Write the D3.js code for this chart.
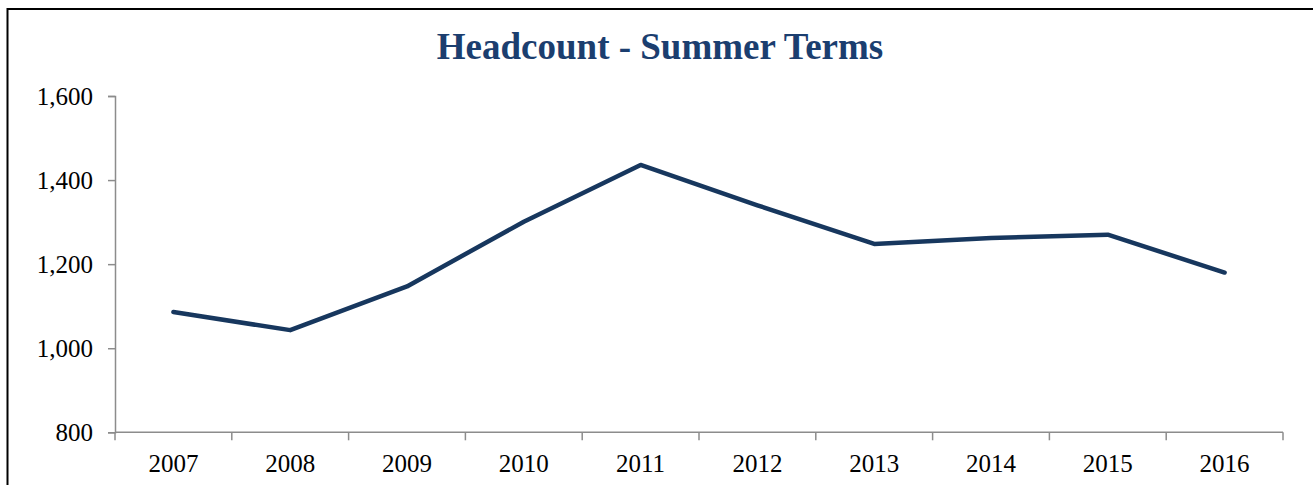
<!DOCTYPE html>
<html lang="en">
  <head>
    <meta charset="utf-8">
    <script src="https://cdn.jsdelivr.net/npm/d3@7"></script>
    <style>
      body { margin: 0; background: #fff; }
      text { font-family: "Times New Roman", "Liberation Serif", serif; }
    </style>
  </head>
  <body>
    <div id="chart"></div>
    <script>
      // chart data
      var years = ["2007", "2008", "2009", "2010", "2011", "2012", "2013", "2014", "2015", "2016"];
      var headcount = [1086, 1043, 1147, 1301, 1436, 1340, 1248, 1262, 1270, 1180];
      var yTicks = [800, 1000, 1200, 1400, 1600];

      var W = 1313, H = 485;
      var margin = {top: 96, right: 30, bottom: 53, left: 115};
      var width = 1283 - margin.left,
          height = 432.3 - margin.top;

      var svg = d3.select("#chart").append("svg")
          .attr("width", W)
          .attr("height", H);

      // outer frame (right/bottom edges fall outside the picture)
      svg.append("rect")
          .attr("x", 7.5).attr("y", 9)
          .attr("width", W + 20).attr("height", H + 20)
          .attr("fill", "none")
          .attr("stroke", "#000")
          .attr("stroke-width", 2);

      svg.append("text")
          .attr("x", 660).attr("y", 59)
          .attr("text-anchor", "middle")
          .style("font-size", "37px")
          .style("font-weight", "bold")
          .style("fill", "#1b3e6f")
          .text("Headcount - Summer Terms");

      var g = svg.append("g")
          .attr("transform", "translate(" + margin.left + "," + margin.top + ")");

      var x = d3.scaleBand().domain(years).range([0, width]);
      var y = d3.scaleLinear().domain([800, 1600]).range([height, 0]);

      var axisColor = "#8c8c8c";

      // y axis
      var yAxis = g.append("g")
          .call(d3.axisLeft(y).tickValues(yTicks).tickSize(7).tickPadding(15)
                .tickFormat(d3.format(",")));
      yAxis.select(".domain").attr("stroke", axisColor).attr("stroke-width", 1.5);
      yAxis.selectAll(".tick line").attr("stroke", axisColor).attr("stroke-width", 1.5);
      yAxis.selectAll(".tick text")
          .style("font-size", "25px")
          .style("font-family", "'Times New Roman', 'Liberation Serif', serif")
          .attr("fill", "#000");

      // x axis: line, ticks at category boundaries, labels at centres
      var xAxis = g.append("g").attr("transform", "translate(0," + height + ")");
      xAxis.append("line")
          .attr("x1", 0).attr("x2", width)
          .attr("stroke", axisColor).attr("stroke-width", 1.5);
      xAxis.selectAll(".xtick")
          .data(years.concat(["end"]))
          .enter().append("line")
          .attr("class", "xtick")
          .attr("x1", function (d, i) { return i * x.step(); })
          .attr("x2", function (d, i) { return i * x.step(); })
          .attr("y1", 0).attr("y2", 8)
          .attr("stroke", axisColor).attr("stroke-width", 1.5);
      xAxis.selectAll(".xlabel")
          .data(years)
          .enter().append("text")
          .attr("class", "xlabel")
          .attr("x", function (d) { return x(d) + x.bandwidth() / 2; })
          .attr("y", 39.5)
          .attr("text-anchor", "middle")
          .style("font-size", "25px")
          .text(function (d) { return d; });

      // series line
      var line = d3.line()
          .x(function (d, i) { return x(years[i]) + x.bandwidth() / 2; })
          .y(function (d) { return y(d); });

      g.append("path")
          .datum(headcount)
          .attr("d", line)
          .attr("fill", "none")
          .attr("stroke", "#17375e")
          .attr("stroke-width", 4.5)
          .attr("stroke-linecap", "round")
          .attr("stroke-linejoin", "round");
    </script>
  </body>
</html>
